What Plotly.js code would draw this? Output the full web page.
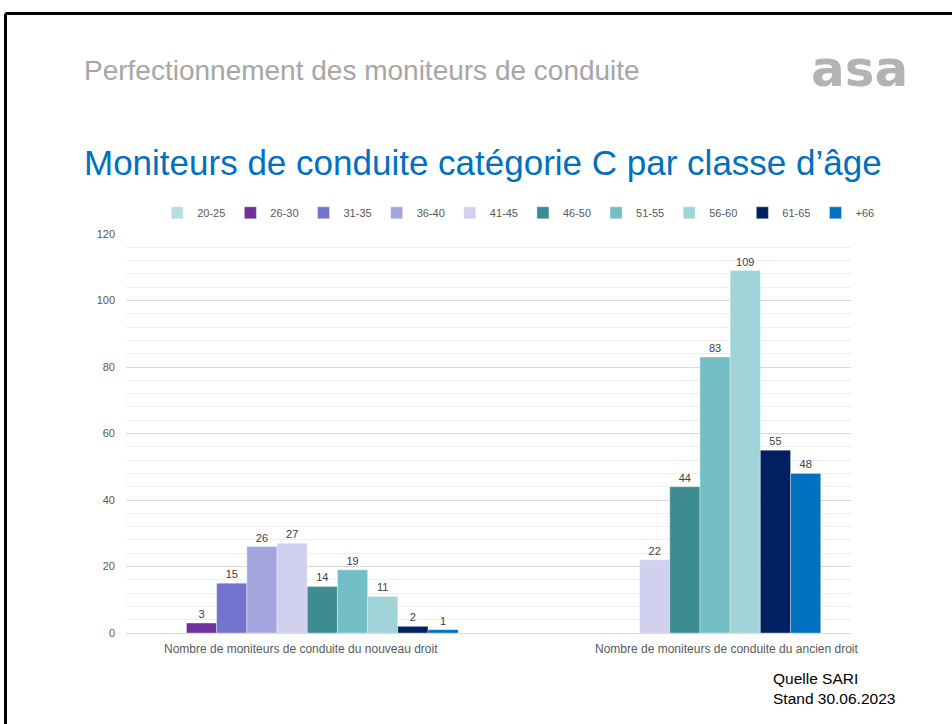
<!DOCTYPE html>
<html>
<head>
<meta charset="utf-8">
<script src="https://cdn.plot.ly/plotly-3.0.1.min.js"></script>
<style>
  html, body { margin: 0; background: #fff; overflow: hidden; }
  #chart { width: 952px; height: 724px; }
</style>
</head>
<body>
<div id="chart"></div>
<script>
// Categories (x axis)
const categories = [
    'Nombre de moniteurs de conduite du nouveau droit',
    'Nombre de moniteurs de conduite du ancien droit'
];

// Age classes (one series each)
const ageClasses = ['20-25', '26-30', '31-35', '36-40', '41-45', '46-50', '51-55', '56-60', '61-65', '+66'];

// Values per age class: [nouveau droit, ancien droit]
const v2025 = [null, null];
const v2630 = [3, null];
const v3135 = [15, null];
const v3640 = [26, null];
const v4145 = [27, 22];
const v4650 = [14, 44];
const v5155 = [19, 83];
const v5660 = [11, 109];
const v6165 = [2, 55];
const v66 = [1, 48];
const seriesValues = [v2025, v2630, v3135, v3640, v4145, v4650, v5155, v5660, v6165, v66];

const colors = ['#b6dde0', '#7030a0', '#7473cd', '#a4a4df', '#d1d1ef',
    '#3d8c91', '#74bfc5', '#a0d4d8', '#002060', '#0070c0'];

const yTicks = [0, 20, 40, 60, 80, 100, 120];

const traces = ageClasses.map((name, i) => ({
    type: 'bar',
    name: name,
    x: categories,
    y: seriesValues[i],
    text: seriesValues[i].map(v => (v === null ? '' : String(v))),
    textposition: 'outside',
    textfont: { size: 11, color: '#404040' },
    cliponaxis: false,
    marker: { color: colors[i], line: { width: 0.5, color: 'rgba(255,255,255,0.7)' } },
    hoverinfo: 'name+y'
}));

const gray = '#595959';

const layout = {
    width: 952,
    height: 724,
    margin: { l: 126, r: 101, t: 234, b: 91 },
    paper_bgcolor: '#fff',
    plot_bgcolor: '#fff',
    font: { family: 'Liberation Sans, Arial, sans-serif', color: gray, size: 11 },
    barmode: 'group',
    bargap: 0.167,
    bargroupgap: 0,
    showlegend: true,
    legend: {
        orientation: 'h',
        x: 0.541, xanchor: 'center',
        y: 1.053, yanchor: 'middle',
        font: { size: 11, color: gray },
        itemwidth: 30,
        traceorder: 'normal'
    },
    xaxis: {
        type: 'category',
        showticklabels: false,
        showgrid: false,
        showline: true,
        linecolor: '#d9d9d9',
        ticks: ''
    },
    yaxis: {
        range: [0, 120],
        tickvals: yTicks,
        ticks: '',
        ticklabelstandoff: 10,
        showgrid: true,
        gridcolor: '#d9d9d9',
        zeroline: false,
        showline: false,
        tickfont: { size: 11, color: gray },
        minor: { dtick: 4, showgrid: true, gridcolor: '#eeeeee' }
    },
    // slide frame: top and left edges only
    shapes: [
        { type: 'line', xref: 'paper', yref: 'paper', x0: -0.1662, x1: 1.2, y0: 1.5526, y1: 1.5526,
          line: { color: '#000', width: 3 } },
        { type: 'line', xref: 'paper', yref: 'paper', x0: -0.1662, x1: -0.1662, y0: 1.5526, y1: -0.3,
          line: { color: '#000', width: 3 } }
    ],
    annotations: [
        {
            xref: 'paper', yref: 'paper', x: -0.0607, y: 1.411,
            xanchor: 'left', yanchor: 'middle', showarrow: false,
            text: 'Perfectionnement des moniteurs de conduite',
            font: { size: 28, color: '#a6a6a6' }
        },
        {
            xref: 'paper', yref: 'paper', x: 1.0814, y: 1.413,
            xanchor: 'right', yanchor: 'middle', showarrow: false,
            text: '<b>asa</b>',
            font: { family: 'DejaVu Sans', size: 50, color: '#b3b3b3' }
        },
        {
            xref: 'paper', yref: 'paper', x: -0.0607, y: 1.18,
            xanchor: 'left', yanchor: 'middle', showarrow: false,
            text: 'Moniteurs de conduite catégorie C par classe d’âge',
            font: { size: 35, color: '#0070c0' }
        },
        {
            xref: 'paper', yref: 'paper', x: 0.2414, y: -0.04,
            xanchor: 'center', yanchor: 'middle', showarrow: false,
            text: categories[0], font: { size: 12, color: gray }
        },
        {
            xref: 'paper', yref: 'paper', x: 0.8276, y: -0.04,
            xanchor: 'center', yanchor: 'middle', showarrow: false,
            text: categories[1], font: { size: 12, color: gray }
        },
        {
            xref: 'paper', yref: 'paper', x: 0.889, y: -0.113,
            xanchor: 'left', yanchor: 'middle', showarrow: false,
            text: 'Quelle SARI', font: { size: 15.5, color: '#000' }
        },
        {
            xref: 'paper', yref: 'paper', x: 0.889, y: -0.163,
            xanchor: 'left', yanchor: 'middle', showarrow: false,
            text: 'Stand 30.06.2023', font: { size: 15.5, color: '#000' }
        }
    ]
};

Plotly.newPlot('chart', traces, layout, { displayModeBar: false, staticPlot: true });
</script>
</body>
</html>
